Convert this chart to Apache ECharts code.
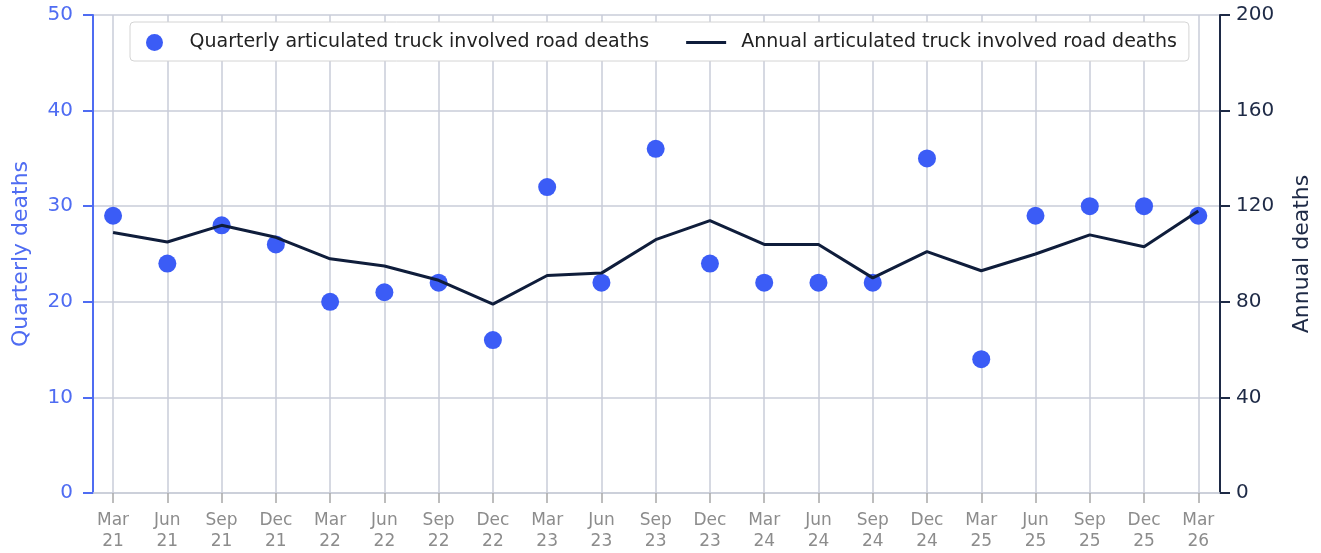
<!DOCTYPE html>
<html>
<head>
<meta charset="utf-8">
<script src="https://cdn.jsdelivr.net/npm/echarts@6/dist/echarts.min.js"></script>
<style>
  html, body { margin: 0; padding: 0; background: #fff; }
  #main { width: 1321px; height: 553px; }
</style>
</head>
<body>
<div id="main"></div>
<script>
// quarter labels on the x axis
const quarters = ['Mar\n21', 'Jun\n21', 'Sep\n21', 'Dec\n21', 'Mar\n22', 'Jun\n22', 'Sep\n22', 'Dec\n22',
  'Mar\n23', 'Jun\n23', 'Sep\n23', 'Dec\n23', 'Mar\n24', 'Jun\n24', 'Sep\n24', 'Dec\n24',
  'Mar\n25', 'Jun\n25', 'Sep\n25', 'Dec\n25', 'Mar\n26'];
// quarterly deaths (left axis)
const quarterlyDeaths = [29, 24, 28, 26, 20, 21, 22, 16, 32, 22, 36, 24, 22, 22, 22, 35, 14, 29, 30, 30, 29];
// annual (rolling 12 month) deaths (right axis)
const annualDeaths = [109, 105, 112, 107, 98, 95, 89, 79, 91, 92, 106, 114, 104, 104, 90, 101, 93, 100, 108, 103, 118];

const qName = 'Quarterly articulated truck involved road deaths';
const aName = 'Annual articulated truck involved road deaths';

const chart = echarts.init(document.getElementById('main'));
const idx = quarters.map((q, i) => i);
const font = 'DejaVu Sans, sans-serif';
const blue = '#3b5cf6';
const navy = '#0f1d3b';

chart.setOption({
  animation: false,
  textStyle: { fontFamily: font },
  grid: { left: 93, right: 99, top: 15, bottom: 60, containLabel: false },
  legend: {
    top: 22,
    left: 130,
    itemGap: 37,
    padding: [11, 12, 9, 16],
    borderColor: '#d4d4d4',
    borderWidth: 1,
    borderRadius: 4,
    backgroundColor: '#fff',
    textStyle: {
      fontSize: 19, color: '#222', fontFamily: font,
      rich: { gap: { width: 10 } }
    },
    formatter: name => '{gap|}' + name,
    itemWidth: 40,
    itemHeight: 17,
    data: [
      { name: qName, icon: 'circle', itemStyle: { color: blue } },
      { name: aName, icon: 'path://M0 0H40V3H0Z', itemStyle: { color: navy } }
    ]
  },
  xAxis: {
    type: 'value',
    min: -0.37,
    max: 20.4,
    axisLine: { show: true, onZero: false, lineStyle: { color: '#c9cdd8', width: 1.5 } },
    axisTick: { show: true, customValues: idx, length: 10, lineStyle: { color: '#a8a8a8', width: 1.5 } },
    axisLabel: {
      customValues: idx,
      formatter: v => quarters[Math.round(v)],
      color: '#8c8c8c', fontSize: 17, lineHeight: 21, margin: 17, fontFamily: font
    },
    splitLine: { show: true, customValues: idx, lineStyle: { color: '#c9cdd8', width: 1.5 } }
  },
  yAxis: [{
    type: 'value',
    min: 0, max: 50, interval: 10,
    name: 'Quarterly deaths',
    nameLocation: 'middle',
    nameGap: 61,
    nameTextStyle: { color: '#4f6cf2', fontSize: 22, fontFamily: font },
    axisLine: { show: true, onZero: false, lineStyle: { color: '#4f6cf2', width: 2 } },
    axisTick: { show: true, length: 10, lineStyle: { color: '#4f6cf2', width: 2 } },
    axisLabel: { color: '#4f6cf2', fontSize: 20, margin: 20, fontFamily: font },
    splitLine: { show: true, lineStyle: { color: '#c9cdd8', width: 1.5 } }
  }, {
    type: 'value',
    min: 0, max: 200, interval: 40,
    position: 'right',
    name: 'Annual deaths',
    nameLocation: 'middle',
    nameGap: 71,
    nameTextStyle: { color: '#1e2a46', fontSize: 22, fontFamily: font },
    axisLine: { show: true, onZero: false, lineStyle: { color: '#1e2a46', width: 2 } },
    axisTick: { show: true, length: 10, lineStyle: { color: '#1e2a46', width: 2 } },
    axisLabel: { color: '#1e2a46', fontSize: 20, margin: 16, fontFamily: font },
    splitLine: { show: false }
  }],
  series: [{
    name: qName,
    type: 'scatter',
    yAxisIndex: 0,
    symbolSize: 18,
    itemStyle: { color: blue, opacity: 1 },
    data: quarterlyDeaths.map((v, i) => [i, v]),
    z: 3
  }, {
    name: aName,
    type: 'line',
    yAxisIndex: 1,
    symbol: 'none',
    lineStyle: { color: navy, width: 3 },
    itemStyle: { color: navy },
    data: annualDeaths.map((v, i) => [i, v]),
    z: 4
  }]
});
</script>
</body>
</html>
